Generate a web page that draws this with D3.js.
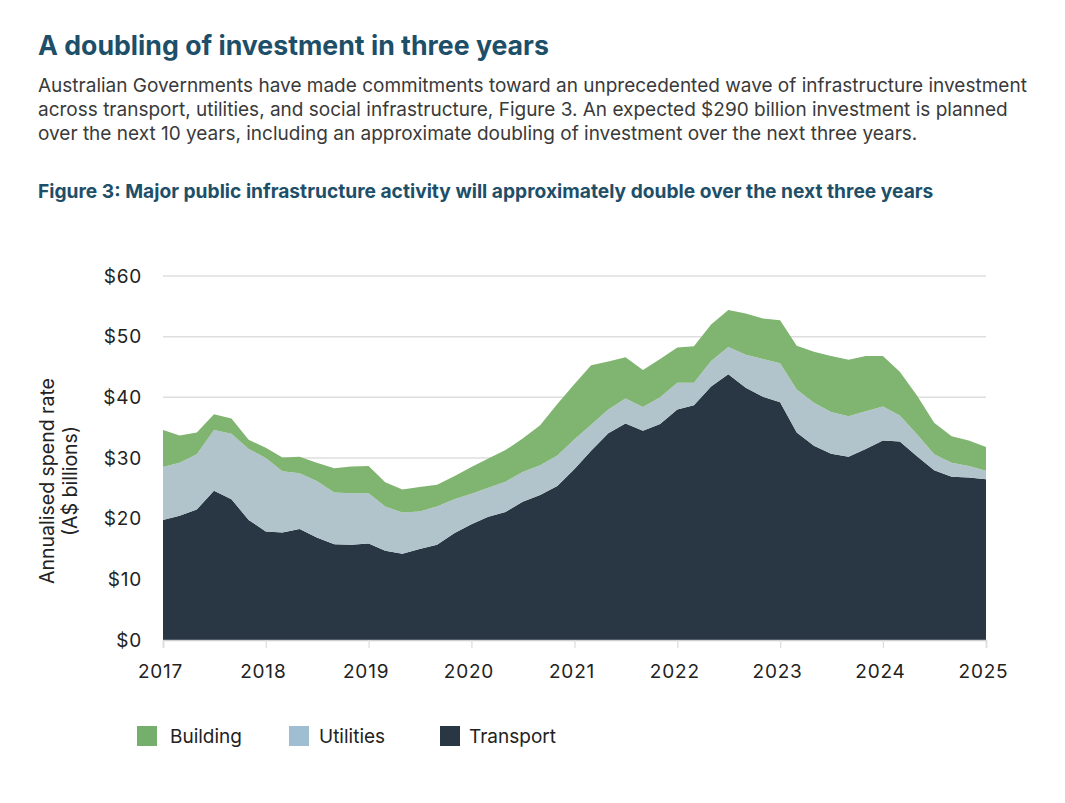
<!DOCTYPE html>
<html>
<head>
<meta charset="utf-8">
<script src="https://cdn.jsdelivr.net/npm/d3@7"></script>
<style>
  body { margin: 0; background: #fff; }
  svg text { font-family: "Inter", "Noto Sans", sans-serif; }
</style>
</head>
<body>
<svg id="chart" width="1065" height="803"></svg>
<script>
// bi-monthly readings, A$ billions (annualised)
var months = [
  "2017-01","2017-03","2017-05","2017-07","2017-09","2017-11",
  "2018-01","2018-03","2018-05","2018-07","2018-09","2018-11",
  "2019-01","2019-03","2019-05","2019-07","2019-09","2019-11",
  "2020-01","2020-03","2020-05","2020-07","2020-09","2020-11",
  "2021-01","2021-03","2021-05","2021-07","2021-09","2021-11",
  "2022-01","2022-03","2022-05","2022-07","2022-09","2022-11",
  "2023-01","2023-03","2023-05","2023-07","2023-09","2023-11",
  "2024-01","2024-03","2024-05","2024-07","2024-09","2024-11",
  "2025-01"
];
var transport = [
  19.8, 20.5, 21.5, 24.6, 23.2, 19.8,
  17.9, 17.7, 18.3, 16.9, 15.8, 15.7,
  15.9, 14.7, 14.2, 15.0, 15.7, 17.6,
  19.1, 20.3, 21.1, 22.8, 23.9, 25.4,
  28.2, 31.2, 34.1, 35.7, 34.5, 35.6,
  38.0, 38.7, 41.8, 43.8, 41.6, 40.1,
  39.2, 34.2, 32.0, 30.7, 30.2, 31.5,
  32.9, 32.7, 30.3, 28.0, 26.9, 26.8,
  26.5
];
var utilities = [
  8.7, 8.7, 9.1, 10.0, 10.8, 11.7,
  12.1, 10.1, 9.2, 9.3, 8.5, 8.5,
  8.3, 7.3, 6.8, 6.2, 6.3, 5.6,
  5.0, 4.8, 5.0, 4.9, 4.9, 5.0,
  4.9, 4.3, 3.9, 4.1, 3.9, 4.4,
  4.4, 3.7, 4.2, 4.5, 5.4, 6.2,
  6.4, 7.1, 7.1, 6.9, 6.7, 6.2,
  5.6, 4.3, 3.6, 2.6, 2.3, 1.9,
  1.4
];
var building = [
  6.1, 4.5, 3.6, 2.6, 2.5, 1.5,
  1.7, 2.3, 2.7, 3.0, 4.0, 4.4,
  4.5, 4.0, 3.8, 4.0, 3.6, 3.8,
  4.4, 4.8, 5.2, 5.5, 6.6, 8.5,
  9.1, 9.8, 7.9, 6.8, 6.1, 6.3,
  5.8, 6.0, 6.0, 6.1, 6.8, 6.7,
  7.1, 7.2, 8.4, 9.2, 9.3, 9.1,
  8.3, 7.2, 6.4, 5.2, 4.4, 4.2,
  3.9
];
var yTicks = [0, 10, 20, 30, 40, 50, 60];
var yearTicks = [2017, 2018, 2019, 2020, 2021, 2022, 2023, 2024, 2025];
var seriesKeys = ["transport", "utilities", "building"];
var seriesNames = { building: "Building", utilities: "Utilities", transport: "Transport" };
var seriesColors = { building: "#80b571", utilities: "#b1c4cb", transport: "#293644" };
var legendColors = { building: "#74b06c", utilities: "#9fbed1", transport: "#293644" };

var svg = d3.select("#chart");
var parseMonth = d3.timeParse("%Y-%m");

var rows = months.map(function(m, i) {
  return {
    date: parseMonth(m),
    transport: transport[i],
    utilities: utilities[i],
    building: building[i]
  };
});

// header text
svg.append("text")
  .attr("x", 38).attr("y", 55)
  .attr("font-size", 26.7).attr("font-weight", 700)
  .attr("fill", "#1e4f69")
  .text("A doubling of investment in three years");

var intro = [
  "Australian Governments have made commitments toward an unprecedented wave of infrastructure investment",
  "across transport, utilities, and social infrastructure, Figure 3. An expected $290 billion investment is planned",
  "over the next 10 years, including an approximate doubling of investment over the next three years."
];
svg.append("g").selectAll("text")
  .data(intro)
  .enter()
  .append("text")
  .attr("x", 38)
  .attr("y", function(d, i) { return 92 + i * 24; })
  .attr("font-size", 19)
  .attr("fill", "#3a3a3a")
  .text(function(d) { return d; });

svg.append("text")
  .attr("x", 38).attr("y", 198)
  .attr("font-size", 19.2).attr("font-weight", 700)
  .attr("fill", "#1e4f69")
  .text("Figure 3: Major public infrastructure activity will approximately double over the next three years");

// scales
var x = d3.scaleTime()
  .domain([parseMonth("2017-01"), parseMonth("2025-01")])
  .range([163, 986]);
var y = d3.scaleLinear().domain([0, 60]).range([640, 276]);

// grid
svg.append("g").selectAll("line")
  .data(yTicks.filter(function(d) { return d > 0; }))
  .enter()
  .append("line")
  .attr("x1", 163).attr("x2", 986)
  .attr("y1", function(d) { return y(d); })
  .attr("y2", function(d) { return y(d); })
  .attr("stroke", "#dedede")
  .attr("stroke-width", 1.5);

// stacked areas
var stack = d3.stack().keys(seriesKeys);
var layers = stack(rows);
var area = d3.area()
  .x(function(d) { return x(d.data.date); })
  .y0(function(d) { return y(d[0]); })
  .y1(function(d) { return y(d[1]); });

svg.append("g").selectAll("path")
  .data(layers)
  .enter()
  .append("path")
  .attr("d", area)
  .attr("fill", function(d) { return seriesColors[d.key]; });

// x axis
var xAxis = d3.axisBottom(x)
  .tickValues(yearTicks.map(function(yr) { return new Date(yr, 0, 1); }))
  .tickFormat(d3.timeFormat("%Y"))
  .tickSize(8)
  .tickPadding(17);
var gx = svg.append("g")
  .attr("transform", "translate(0,640)")
  .call(xAxis);
gx.select(".domain").attr("stroke", "#cfcfcf").attr("stroke-width", 1.5);
gx.selectAll(".tick line").attr("stroke", "#dcdcdc").attr("stroke-width", 1.2);
gx.selectAll(".tick text")
  .attr("font-size", 19)
  .attr("fill", "#222")
  .attr("dx", -3)
  .style("letter-spacing", "0.8px")
  .style("font-family", "Inter, 'Noto Sans', sans-serif");

// y axis labels
var yAxis = d3.axisLeft(y)
  .tickValues(yTicks)
  .tickFormat(function(d) { return "$" + d; })
  .tickSize(0)
  .tickPadding(21);
var gy = svg.append("g")
  .attr("transform", "translate(163,0)")
  .call(yAxis);
gy.select(".domain").remove();
gy.selectAll(".tick text")
  .attr("font-size", 19)
  .attr("fill", "#222")
  .style("letter-spacing", "0.8px")
  .style("font-family", "Inter, 'Noto Sans', sans-serif");

// y title
var yTitle = svg.append("text")
  .attr("transform", "translate(54,481) rotate(-90)")
  .attr("text-anchor", "middle")
  .attr("font-size", 19.5)
  .attr("fill", "#222");
yTitle.append("tspan").attr("x", 0).attr("dy", 0).text("Annualised spend rate");
yTitle.append("tspan").attr("x", 0).attr("dy", 23).text("(A$ billions)");

// legend
var legendKeys = ["building", "utilities", "transport"];
var legendX = [137, 289, 440];
var legendTextX = [33, 30, 29];
var legend = svg.append("g").selectAll("g")
  .data(legendKeys)
  .enter()
  .append("g")
  .attr("transform", function(d, i) { return "translate(" + legendX[i] + ",726)"; });
legend.append("rect")
  .attr("width", 20).attr("height", 20)
  .attr("fill", function(d) { return legendColors[d]; });
legend.append("text")
  .attr("x", function(d, i) { return legendTextX[i]; })
  .attr("y", 17)
  .attr("font-size", 19)
  .attr("fill", "#222")
  .text(function(d) { return seriesNames[d]; });
</script>
</body>
</html>
